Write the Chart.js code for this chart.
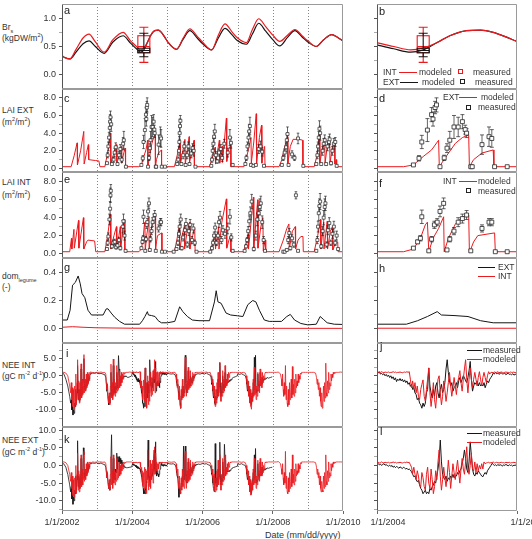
<!DOCTYPE html>
<html><head><meta charset="utf-8">
<script src="https://cdn.jsdelivr.net/npm/chart.js@4.4.1/dist/chart.umd.min.js"></script>
<style>
body{margin:0;background:#fff;width:532px;height:539px;overflow:hidden;position:relative;font-family:"Liberation Sans",Arial,sans-serif;color:#333}
canvas{position:absolute}
.t{position:absolute;font-size:8.5px;line-height:10px;white-space:nowrap;color:#333}
.t sub,.t sup{font-size:5.5px;line-height:0}
.lt{position:absolute;font-size:11px;line-height:11px;color:#222}
.lg{position:absolute;font-size:8.5px;line-height:10px;white-space:nowrap;color:#333}
.ln{position:absolute;height:0;border-top:1.2px solid}
.sq{position:absolute;width:3px;height:3px;border:1px solid;background:#fff}
.xl{position:absolute;font-size:9px;line-height:10px;white-space:nowrap;color:#333}
</style></head><body>

<div class="t" style="left:2px;top:22px">Br<sub>s</sub></div>
<div class="t" style="left:2px;top:32.5px">(kgDW/m<sup>2</sup>)</div>
<div class="t" style="left:2px;top:105px">LAI EXT</div>
<div class="t" style="left:2px;top:116.5px">(m<sup>2</sup>/m<sup>2</sup>)</div>
<div class="t" style="left:2px;top:177px">LAI INT</div>
<div class="t" style="left:2px;top:190px">(m<sup>2</sup>/m<sup>2</sup>)</div>
<div class="t" style="left:2px;top:271px">dom<sub>legume</sub></div>
<div class="t" style="left:2px;top:282px">(-)</div>
<div class="t" style="left:2px;top:360px">NEE INT</div>
<div class="t" style="left:2px;top:370.5px">(gC m<sup>-2</sup> d<sup>-1</sup>)</div>
<div class="t" style="left:2px;top:435px">NEE EXT</div>
<div class="t" style="left:2px;top:446.5px">(gC m<sup>-2</sup> d<sup>-1</sup>)</div>
<div class="xl" style="left:265px;top:530px">Date (mm/dd/yyyy)</div>

<script>
// ---------------- DATA ----------------
// Panel a/b: belowground biomass Br_s (kgDW/m2)
const brYears = [2002.00,2002.10,2002.22,2002.40,2002.60,2002.77,2002.95,2003.20,2003.45,2003.74,2003.95,2004.00,2004.12,2004.24,2004.33,2004.43,2004.52,2004.64,2004.74,2004.83,2004.93,2005.00,2005.26,2005.45,2005.64,2005.85,2006.00,2006.26,2006.45,2006.64,2006.85,2007.00,2007.25,2007.42,2007.60,2007.80,2008.00,2008.20,2008.42,2008.63,2008.85,2009.00,2009.24,2009.45,2009.68,2009.85,2010.00];
const brInt = [0.34,0.30,0.28,0.45,0.65,0.72,0.58,0.40,0.62,0.75,0.60,0.57,0.50,0.44,0.47,0.57,0.69,0.78,0.79,0.75,0.66,0.59,0.45,0.65,0.81,0.68,0.58,0.44,0.70,0.90,0.75,0.65,0.57,0.80,0.99,0.85,0.70,0.59,0.70,0.80,0.68,0.60,0.50,0.62,0.71,0.66,0.60];
const brExt = [0.33,0.30,0.28,0.40,0.55,0.60,0.50,0.38,0.58,0.69,0.56,0.53,0.46,0.40,0.44,0.57,0.69,0.78,0.79,0.75,0.66,0.59,0.45,0.63,0.78,0.65,0.55,0.44,0.65,0.82,0.70,0.60,0.54,0.72,0.91,0.77,0.62,0.51,0.66,0.78,0.66,0.58,0.50,0.62,0.71,0.66,0.60];
const brBoxDate = 2004.33;
const brBoxInt = [0.22,0.39,0.50,0.69,0.84];   // min, q1, median, q3, max
const brBoxExt = [0.32,0.39,0.43,0.47,0.735];

// Panel c/d: LAI EXT modeled [date, LAI]
const laiExtModeled = [[2002.00,0.2],[2002.26,0.2],[2002.35,1.5],[2002.43,2.9],[2002.44,0.4],[2002.53,2.0],[2002.62,4.2],[2002.63,0.5],[2002.70,1.8],[2002.75,2.7],[2002.76,1.0],[2002.95,0.9],[2003.05,0.85],[2003.08,0.2],
[2003.22,0.2],[2003.30,1.8],[2003.38,4.0],[2003.39,0.5],[2003.48,1.8],[2003.55,2.7],[2003.56,0.5],[2003.64,1.8],[2003.69,2.5],[2003.70,0.6],[2003.76,1.8],[2003.80,2.3],[2003.81,0.2],
[2004.19,0.2],[2004.26,0.4],[2004.33,1.35],[2004.39,2.1],[2004.44,3.2],[2004.445,0.2],[2004.50,1.5],[2004.56,2.85],[2004.61,3.5],[2004.655,3.8],[2004.66,0.2],[2004.69,1.0],[2004.75,1.75],[2004.83,2.1],[2004.835,0.2],
[2005.20,0.2],[2005.28,1.5],[2005.36,3.0],[2005.37,0.4],[2005.44,2.0],[2005.50,3.3],[2005.51,0.5],[2005.57,2.2],[2005.62,3.6],[2005.63,0.6],[2005.70,2.2],[2005.76,3.2],[2005.77,0.2],
[2006.20,0.2],[2006.30,1.5],[2006.36,2.4],[2006.37,0.5],[2006.48,3.2],[2006.49,0.6],[2006.56,2.5],[2006.57,0.7],[2006.68,5.7],[2006.69,0.8],[2006.75,2.2],[2006.80,2.6],[2006.81,0.2],
[2007.18,0.2],[2007.30,2.0],[2007.38,3.5],[2007.39,0.6],[2007.46,3.0],[2007.53,6.2],[2007.54,0.6],[2007.62,3.5],[2007.68,4.9],[2007.69,0.6],[2007.74,2.0],[2007.77,2.5],[2007.78,0.2],
[2008.18,0.2],[2008.26,1.0],[2008.33,2.3],[2008.42,3.6],[2008.43,0.6],[2008.50,2.5],[2008.58,3.3],[2008.75,3.3],[2008.85,3.2],[2008.86,0.2],
[2009.18,0.2],[2009.26,1.5],[2009.33,4.0],[2009.34,0.6],[2009.42,2.5],[2009.48,3.5],[2009.49,0.6],[2009.56,2.8],[2009.62,3.2],[2009.63,0.6],[2009.70,2.5],[2009.76,3.0],[2009.77,0.5],[2009.81,1.0],[2009.82,0.2],[2010.00,0.2]];
// LAI EXT measured [date, LAI, error]
const laiExtMeasured = [[2003.28,0.6,0.1],[2003.30,1.5,0.3],[2003.32,2.5,0.5],[2003.34,3.5,0.6],[2003.36,4.6,0.7],[2003.37,5.3,0.8],[2003.38,5.8,0.7],[2003.40,5.0,0.8],[2003.42,0.5,0.1],[2003.47,1.0,0.3],[2003.50,1.8,0.5],[2003.53,2.4,0.5],[2003.58,0.5,0.1],[2003.62,1.5,0.4],[2003.66,2.2,0.5],[2003.70,1.0,0.3],[2003.74,2.8,0.7],[2003.76,3.2,1.0],[2003.82,0.2,0.1],
[2004.26,0.4,0.1],[2004.30,1.15,0.3],[2004.32,3.0,0.75],[2004.36,4.35,1.3],[2004.39,6.1,0.8],[2004.40,5.6,0.8],[2004.415,6.9,0.7],[2004.425,7.2,0.8],[2004.45,0.2,0.1],[2004.48,1.2,0.3],[2004.50,2.3,0.5],[2004.52,3.2,1.0],[2004.55,4.7,1.3],[2004.58,4.7,1.1],[2004.61,5.3,0.8],[2004.63,4.4,0.5],[2004.64,4.0,0.5],[2004.67,0.2,0.1],[2004.68,0.2,0.1],[2004.75,2.7,1.1],[2004.80,3.6,1.1],[2004.82,3.4,1.0],[2004.84,0.2,0.1],[2004.93,0.2,0],
[2005.28,0.5,0.1],[2005.31,1.0,0.3],[2005.33,2.0,0.5],[2005.34,3.0,0.6],[2005.35,4.0,0.7],[2005.36,4.8,0.8],[2005.37,5.4,0.6],[2005.40,0.5,0.1],[2005.45,1.5,0.4],[2005.48,2.5,0.5],[2005.52,0.4,0.1],[2005.56,1.5,0.4],[2005.60,2.5,0.5],[2005.63,0.5,0.1],[2005.68,1.7,0.5],[2005.72,2.3,0.5],[2005.75,2.0,0.6],[2005.80,0.2,0.05],
[2006.25,0.3,0.1],[2006.27,1.0,0.3],[2006.29,2.0,0.5],[2006.31,2.8,0.6],[2006.33,3.6,0.7],[2006.35,4.2,0.8],[2006.38,1.5,0.4],[2006.42,0.8,0.2],[2006.47,1.8,0.4],[2006.52,2.2,0.5],[2006.56,1.2,0.4],[2006.62,2.8,0.5],[2006.72,1.8,0.5],[2006.78,3.5,0.9],[2006.81,2.9,0.6],[2006.86,0.4,0.1],
[2007.22,0.5,0.1],[2007.25,1.2,0.3],[2007.28,2.5,0.5],[2007.31,3.5,0.7],[2007.33,4.2,0.8],[2007.35,4.8,1.0],[2007.38,0.4,0.1],[2007.45,0.3,0.1],[2007.52,0.4,0.1],[2007.60,2.2,0.5],[2007.65,2.5,0.6],[2007.70,1.9,0.5],[2007.75,0.3,0.1],
[2008.26,0.4,0.1],[2008.30,1.2,0.3],[2008.34,1.8,0.4],[2008.38,2.4,0.5],[2008.40,3.2,0.7],[2008.42,3.9,0.8],[2008.45,0.4,0.1],[2008.55,1.6,0.4],[2008.62,1.2,0.3],[2008.72,3.4,0.6],[2008.87,0.3,0.1],
[2009.24,0.5,0.1],[2009.27,1.5,0.4],[2009.29,2.5,0.5],[2009.31,3.5,0.7],[2009.33,4.5,0.9],[2009.35,4.0,0.8],[2009.38,0.5,0.1],[2009.42,2.0,0.5],[2009.45,2.8,0.6],[2009.48,3.2,0.6],[2009.52,0.5,0.1],[2009.56,2.5,0.5],[2009.60,3.0,0.6],[2009.62,3.3,0.6],[2009.66,0.6,0.2],[2009.70,2.0,0.5],[2009.74,2.8,0.6],[2009.78,3.0,0.5],[2009.82,0.3,0.1]];

// Panel e/f: LAI INT
const laiIntModeled = [[2002.00,0.2],[2002.22,0.2],[2002.27,1.7],[2002.28,0.5],[2002.34,2.7],[2002.35,0.6],[2002.47,3.7],[2002.48,0.6],[2002.61,4.0],[2002.62,0.5],[2002.70,1.3],[2002.74,1.5],[2002.93,1.4],[2002.96,0.2],
[2003.22,0.2],[2003.30,2.0],[2003.38,4.4],[2003.39,0.5],[2003.48,2.0],[2003.55,3.0],[2003.56,0.5],[2003.62,2.0],[2003.66,3.0],[2003.67,0.5],[2003.74,2.8],[2003.78,3.8],[2003.79,0.2],
[2004.19,0.2],[2004.26,0.5],[2004.31,1.7],[2004.345,3.2],[2004.36,3.5],[2004.37,0.2],[2004.40,1.7],[2004.44,2.8],[2004.476,4.1],[2004.48,0.2],[2004.51,1.7],[2004.56,3.3],[2004.61,4.1],[2004.655,4.3],[2004.66,0.2],[2004.67,0.5],[2004.69,1.3],[2004.72,2.0],[2004.84,2.3],[2004.845,0.2],
[2005.20,0.2],[2005.27,1.5],[2005.34,3.2],[2005.35,0.4],[2005.42,2.0],[2005.48,3.0],[2005.49,0.5],[2005.56,2.4],[2005.63,3.5],[2005.64,0.5],[2005.72,2.0],[2005.78,2.8],[2005.79,0.2],
[2006.20,0.2],[2006.28,1.0],[2006.36,2.2],[2006.37,0.5],[2006.46,3.0],[2006.47,0.5],[2006.55,3.5],[2006.68,6.1],[2006.69,0.6],[2006.76,1.6],[2006.80,2.0],[2006.81,0.2],
[2007.18,0.2],[2007.26,1.5],[2007.30,2.2],[2007.31,0.5],[2007.45,6.3],[2007.46,0.6],[2007.57,6.0],[2007.58,0.6],[2007.66,3.0],[2007.72,4.0],[2007.73,0.3],[2007.78,1.5],[2007.80,0.2],
[2008.18,0.2],[2008.30,1.5],[2008.40,2.8],[2008.46,3.3],[2008.47,0.5],[2008.56,2.5],[2008.64,3.0],[2008.65,0.5],[2008.72,1.5],[2008.80,1.9],[2008.86,1.9],[2008.87,0.2],
[2009.18,0.2],[2009.28,2.0],[2009.36,3.8],[2009.37,0.5],[2009.45,3.5],[2009.46,0.5],[2009.55,3.6],[2009.56,0.5],[2009.64,2.5],[2009.70,3.0],[2009.71,0.4],[2009.80,1.3],[2009.85,1.3],[2009.86,0.2],[2010.00,0.2]];
const laiIntMeasured = [[2003.28,0.5,0.1],[2003.30,1.2,0.3],[2003.32,1.9,0.4],[2003.35,3.8,0.6],[2003.37,5.0,0.8],[2003.38,6.5,0.8],[2003.39,7.0,0.7],[2003.42,0.8,0.2],[2003.46,1.2,0.3],[2003.50,1.3,0.3],[2003.54,0.7,0.2],[2003.58,0.9,0.2],[2003.62,1.5,0.3],[2003.66,0.6,0.2],[2003.73,3.0,0.7],[2003.75,3.6,0.8],[2003.78,2.0,0.5],[2003.81,0.3,0.1],
[2004.26,0.6,0.1],[2004.29,1.3,0.2],[2004.31,1.7,0.3],[2004.32,4.1,0.75],[2004.37,0.3,0.1],[2004.39,1.6,0.3],[2004.41,3.2,0.4],[2004.43,3.5,0.4],[2004.45,4.7,0.6],[2004.476,5.6,0.6],[2004.50,0.4,0.1],[2004.52,1.6,0.3],[2004.55,2.5,0.4],[2004.58,3.5,0.5],[2004.61,3.9,0.5],[2004.64,4.3,0.5],[2004.67,0.3,0.1],[2004.75,2.8,0.4],[2004.80,3.5,0.4],[2004.82,3.5,0.4],[2004.845,0.2,0.05],[2004.93,0.2,0],
[2005.18,0.2,0.05],[2005.26,0.5,0.1],[2005.30,1.2,0.3],[2005.33,2.2,0.4],[2005.35,3.0,0.5],[2005.38,3.8,0.6],[2005.41,0.6,0.2],[2005.45,1.8,0.4],[2005.50,2.6,0.5],[2005.53,3.3,0.6],[2005.57,1.0,0.3],[2005.61,2.5,0.5],[2005.65,3.2,0.6],[2005.70,1.5,0.4],[2005.74,2.8,0.5],[2005.78,1.2,0.3],[2005.83,0.2,0.05],
[2006.22,0.2,0.05],[2006.27,0.6,0.2],[2006.30,1.2,0.3],[2006.33,2.0,0.4],[2006.36,2.9,0.5],[2006.40,1.2,0.3],[2006.44,2.0,0.4],[2006.47,3.5,0.6],[2006.50,4.0,0.7],[2006.54,1.5,0.4],[2006.58,2.6,0.5],[2006.64,2.2,0.5],[2006.72,2.8,0.6],[2006.78,4.1,0.8],[2006.82,1.8,0.4],[2006.86,0.3,0.1],
[2007.20,0.3,0.1],[2007.24,0.8,0.2],[2007.27,1.5,0.3],[2007.30,2.5,0.5],[2007.33,3.6,0.6],[2007.36,4.5,0.7],[2007.40,5.8,0.8],[2007.46,0.5,0.2],[2007.52,2.0,0.5],[2007.56,3.8,0.7],[2007.60,4.5,0.8],[2007.63,5.2,0.9],[2007.66,5.6,0.8],[2007.70,3.5,0.7],[2007.74,1.5,0.4],[2007.78,0.3,0.1],
[2008.30,0.2,0.05],[2008.34,0.2,0.05],[2008.40,0.4,0.1],[2008.44,1.5,0.4],[2008.47,2.3,0.5],[2008.50,0.6,0.2],[2008.55,1.7,0.4],[2008.60,1.0,0.3],[2008.66,6.5,0.4],[2008.72,0.3,0.1],
[2009.24,0.3,0.1],[2009.27,1.5,0.4],[2009.29,3.0,0.6],[2009.31,4.5,0.8],[2009.33,5.3,0.8],[2009.35,5.8,0.9],[2009.38,0.8,0.2],[2009.42,2.5,0.5],[2009.45,4.0,0.8],[2009.48,5.2,0.9],[2009.50,5.6,0.8],[2009.53,1.0,0.3],[2009.57,2.6,0.5],[2009.61,3.4,0.6],[2009.65,1.2,0.3],[2009.70,2.2,0.5],[2009.74,3.0,0.6],[2009.78,1.2,0.3],[2009.82,2.0,0.5],[2009.86,0.5,0.1]];

// Panel g/h: legume dominance
const domExt = [[2002.00,0.06],[2002.15,0.06],[2002.23,0.13],[2002.30,0.31],[2002.38,0.33],[2002.46,0.376],[2002.52,0.32],[2002.57,0.25],[2002.65,0.22],[2002.74,0.13],[2002.84,0.096],[2003.00,0.096],[2003.17,0.096],[2003.26,0.14],[2003.31,0.14],[2003.40,0.11],[2003.50,0.08],[2003.64,0.05],[2003.78,0.03],[2004.00,0.03],[2004.21,0.03],[2004.29,0.055],[2004.36,0.085],[2004.43,0.12],[2004.46,0.096],[2004.55,0.092],[2004.65,0.085],[2004.74,0.055],[2004.83,0.04],[2005.00,0.04],[2005.21,0.05],[2005.35,0.155],[2005.44,0.12],[2005.57,0.085],[2005.71,0.06],[2005.90,0.055],[2006.20,0.055],[2006.34,0.19],[2006.39,0.27],[2006.44,0.19],[2006.53,0.18],[2006.67,0.11],[2006.80,0.096],[2007.00,0.09],[2007.15,0.085],[2007.29,0.17],[2007.43,0.20],[2007.52,0.19],[2007.62,0.13],[2007.76,0.06],[2007.90,0.05],[2008.00,0.05],[2008.25,0.05],[2008.40,0.085],[2008.50,0.10],[2008.62,0.06],[2008.80,0.035],[2009.00,0.025],[2009.24,0.03],[2009.35,0.085],[2009.44,0.065],[2009.55,0.04],[2009.75,0.03],[2010.00,0.028]];
const domInt = [[2002.00,0.008],[2002.30,0.012],[2002.60,0.008],[2003.00,0.004],[2004.00,0.001],[2010.00,0.0]];

// Panels i-l: NEE (gC m-2 d-1); sampling day-of-year
const neeDoyStd = [0,20,40,60,80,90,96,102,108,114,120,126,132,138,144,150,156,162,168,174,180,186,192,198,204,210,216,222,228,234,240,246,252,258,264,270,276,282,288,294,300,306,320,340,360];
const neeDoy2004 = Array.from({length:122},(_,i)=>i*3);
const neeFirstYear = 2002;
const neeIntModeled = [
[1.0,1.0,0.8,0.0,-3.0, -5.0,-2.0,-7.0,-3.5,-9.0,-4.0,-9.5,-3.0,-8.0,0.5, -8.5,-2.0,4.7,-7.0,-1.5,-8.0,-2.0,-7.0,3.5,-6.5, -1.0,-5.5,1.0,6.2,-5.0,-1.0,-4.5,0.5,-3.5,1.0, -2.5,0.5,-1.5,1.0,0.5,1.2,0.8, 1.0,0.9,1.0],
[1.0,1.0,1.1,0.9,1.0, 0.5,-2.0,-4.0,-2.5,-6.0,-8.0,-5.0,-8.5,-3.0,3.4, -6.5,-2.0,-7.0,4.9,-5.5,-1.0,-6.0,-2.0,-5.0,3.0, -4.5,-1.0,-4.0,1.5,-3.5,0.0,-3.0,1.0,-2.0,0.5, -1.0,1.0,0.5,1.0,0.8,1.0,1.0, 1.0,1.1,1.0],
[1.0,1.1,0.9,1.0,1.2,1.0,0.9,1.1,1.0,1.0,1.1,0.9,1.0,1.0,1.2,1.0,1.1,0.9,1.0,1.0,1.1,1.0,0.9,1.0,1.1,1.0,1.2,1.0,
 1.2,-1.0,-3.5,-1.5,-4.0,-2.0,-5.0,-3.0,-6.0,-7.0,-4.0,-2.5,-1.2,-6.0,-7.5,-4.0,-1.0,2.3,-5.0,-9.0,-6.0,-2.0,-7.0,-9.5,-5.0,-1.0,0.0,-5.0,-8.5,-6.0,-1.5,-4.0,-7.5,-5.0,-2.0,1.0,-3.0,-6.0,-3.5,-0.5,-3.0,-5.5,-2.0,-0.5,1.5,-2.0,-4.5,-1.0,2.0,4.7,-1.0,-5.0,-1.0,2.3,-1.0,-3.5,-1.0,1.0,-1.0,-3.0,-0.5,1.2,-1.0,-3.0,-0.5,1.0,-0.5,-2.0,0.0,1.2,0.5,1.0,
 1.0,0.9,1.1,1.0,1.0,1.2,0.9,1.0,1.1,1.0,0.9,1.0,1.1,1.0,1.0,0.9,1.1,1.0,1.0,1.1,0.9,1.0],
[1.0,1.1,0.9,1.0,1.0, 0.5,-1.5,-3.5,-1.0,-5.0,-7.0,-3.0,-8.5,-9.5,-4.0, -7.0,-1.0,-6.5,-3.0,-6.0,2.0,5.5,-4.0,-6.0,-1.5, -5.0,2.5,-4.0,-1.0,-3.5,1.5,-3.0,-0.5,-2.5,1.0, -1.5,0.5,-0.5,1.0,0.8,1.0,1.0, 1.0,1.0,1.1],
[1.0,1.0,1.1,0.9,1.0, 0.0,-2.0,-1.0,-4.0,-6.0,-3.0,-7.5,-9.0,-4.0,-8.0, -2.0,-6.5,1.0,-6.0,-2.5,4.0,-5.0,-7.5,-3.0,-6.0, 1.5,-5.0,-1.0,-4.5,3.0,-3.5,-1.0,-3.0,0.5,-2.0, 1.0,-0.5,0.5,1.0,0.8,1.0,1.0, 1.0,1.0,1.0],
[1.0,1.0,0.9,1.0,0.8, 0.0,-2.0,-4.0,-1.5,-6.0,-3.0,-8.0,-4.0,-9.0,-9.8, -5.0,-7.5,-1.0,-6.0,2.5,-5.5,-2.0,-7.0,-3.0,-6.0, 1.0,-4.5,-1.5,-5.0,2.0,-3.0,-0.5,-3.5,1.0,-2.0, 0.0,-1.0,0.5,1.0,0.8,1.0,0.9, 1.0,1.0,1.0],
[1.0,1.0,1.0,1.1,0.5, -1.0,-3.0,0.5,-4.0,-6.0,-2.0,-5.5,3.0,-7.0,-3.0, -8.0,-9.0,-4.0,-8.5,-2.0,-7.0,-5.0,-1.0,-6.5,2.7, -5.5,-2.5,-6.0,-1.0,-5.0,0.5,-3.5,-1.5,-3.0,0.5, -2.0,0.0,-1.0,0.8,0.5,1.0,1.0, 1.0,1.0,1.0],
[1.0,1.0,1.0,1.0,0.8, -0.5,-2.5,-1.0,-4.0,-2.0,-6.0,-3.5,-7.5,-9.0,-5.0, -9.5,-8.0,-3.0,-7.5,-2.0,-6.5,3.7,-5.0,-6.0,-1.5, -5.0,1.0,-4.0,-2.0,-3.0,0.5,-1.5,0.5,-0.5,1.0, 0.5,1.0,0.8,1.0,1.0,1.0,1.0, 1.0,1.1,1.0]];
const neeIntMeasured = [
[1.0,0.5,-1.0,-3.0,-6.0, -8.0,-7.0,-10.0,-9.0,-11.5,-10.0,-11.0,-8.0,-9.0,-4.0, -8.0,-5.0,3.0,-7.0,-4.0,-7.5,-4.0,-6.0,2.0,-6.0, -3.0,-5.0,-1.0,5.0,-4.0,-2.5,-4.0,-1.5,-3.0,-1.0, -2.0,-0.5,-1.0,0.0,0.5,0.8,0.6, 0.8,0.7,0.9],
[0.8,0.6,0.7,0.5,0.3, -0.5,-2.5,-4.5,-5.0,-7.0,-8.5,-7.0,-8.0,-5.0,1.0, -6.0,-4.0,-6.0,3.0,-5.0,-3.0,-5.0,-3.0,-4.0,1.0, -3.5,-2.0,5.9,2.0,-2.0,-1.0,-2.0,-0.5,-1.0,-0.5, -0.5,0.0,-0.3,0.0,-0.2,0.0,-0.3, -0.5,-0.3,0.0],
[1.0,0.8,1.2,0.5,0.7,0.3,0.6,0.0,0.4,-0.2, 0.2,-0.5,0.0,-0.8,-0.3,-1.2,-0.6,-1.7,-1.0,-1.4, -0.8,-1.5,-1.0,-1.8,-1.2,-2.0,-1.5,-2.5,-2.0,-3.1,
 -2.5,-4.0,-3.5,-5.0,-5.5,-7.0,-6.5,-8.0,-8.5,-9.5, -8.0,-9.0,-8.0,-5.0,-4.0,2.3,-3.0,-5.0,-6.5,-4.0, -6.0,-3.0,-2.0,-5.0,-6.5,-4.0,-2.5,-5.0,-4.0,-2.0,
 2.0,4.7,1.0,-1.5,-3.0,-2.0,-4.5,-3.5,-3.0,-2.0, -3.5,-1.5,-0.5,-2.0,-1.0,0.0,-0.5,-1.5,-2.0,-0.5, 1.5,4.2,-1.0,-4.5,-3.0,-2.0,-2.5,-1.5,-3.0,-2.0,
 -3.0,-2.5,-3.0,-2.0,-3.5,-2.5,-1.5,-2.0,-1.0,-0.5, 0.0,0.8,0.5,1.0,0.6,0.8,0.4,0.7,0.9,0.5, 0.6,0.8,0.3,0.6,0.7,0.4,0.5,0.3,0.6,0.2,0.4,0.5],
[0.8,0.6,0.5,0.6,0.3, -0.5,-2.0,-3.0,-2.5,-4.5,-6.0,-5.0,-8.0,-9.5,-6.0, -6.5,-3.0,-6.0,-4.0,-5.0,0.0,6.0,-2.0,-5.0,-2.5, -4.0,1.5,-3.0,-2.0,-3.0,0.0,-2.0,-1.0,-2.0,0.0, -1.0,0.0,-0.5,0.3,0.2,0.5,0.5, 0.6,0.5,0.7],
[0.7,0.5,0.8,0.4,0.2, -0.5,-2.5,-2.0,-4.5,-6.5,-5.0,-8.0,-8.5,-6.0,-7.0, -4.0,-6.0,-1.0,-5.0,-3.0,3.8,-2.0,-6.0,-4.0,-5.0, 0.0,-4.0,-2.5,-3.5,1.0,-2.5,-2.0,-2.5,-1.5,-2.0, -1.5,-1.7,-1.2,-1.5,-1.0,-1.2,-0.8, -0.5,-0.3,0.0],
[0.6,0.4,0.6,0.3,0.0, -1.0,-2.5,-4.5,-3.0,-5.5,-4.0,-7.0,-5.0,-8.0,-8.5, -6.0,-6.5,-2.0,-4.0,5.4,-3.0,6.0,-5.0,-4.0,-4.5, 0.5,-3.0,-2.5,-3.5,1.0,-2.0,-1.5,-2.5,-0.5,-1.5, -1.0,-1.2,-0.8,-1.0,-0.6,-0.8,-0.5, -0.7,-0.5,-0.3]];
const neeExtModeled = [
[1.0,1.0,0.8,0.0,-2.5, -4.5,-2.0,-6.5,-3.0,-8.5,-4.0,-9.0,-3.5,-7.5,0.0, -8.0,-2.5,3.5,-7.0,-1.5,-7.5,-2.5,-6.5,3.0,-6.0, -1.0,-5.5,1.0,4.0,-4.5,-1.0,-4.0,0.5,-3.0,1.0, -2.0,0.5,-1.0,1.0,0.5,1.0,0.8, 1.0,0.9,1.0],
[1.0,1.0,1.0,0.9,1.0, 0.5,-1.5,-3.5,-2.0,-5.0,-6.5,-4.0,-7.0,-2.5,2.5, -5.5,-1.5,-6.5,3.0,-5.0,-1.0,-5.5,-2.0,-4.5,2.0, -4.0,-1.0,-3.5,1.0,-3.0,0.0,-2.5,0.5,-1.5,0.5, -1.0,1.0,0.5,1.0,0.8,1.0,1.0, 1.0,1.0,1.0],
[0.8,0.9,0.7,0.8,1.0,0.8,0.7,0.9,0.8,0.8,0.9,0.7,0.8,0.8,1.0,0.8,0.9,0.7,0.8,0.8,0.9,0.8,0.7,0.8,0.9,0.8,1.0,0.8,0.9,
 0.2,-0.5,-2.2,-0.5,-2.5,-4.0,-1.5,-3.0,-5.5,-6.0,-2.0,-3.5,-6.0,-7.0,-2.5,-0.5,-5.0,-6.5,-1.0,-4.0,-8.0,-6.0,-1.5,-4.0,1.0,4.4,-3.0,-7.0,-4.0,-0.5,-3.5,-6.0,-3.0,1.5,-2.0,-6.5,-3.0,0.5,-2.0,-4.0,-1.0,1.5,-2.0,-5.0,-1.0,2.0,-1.0,-2.5,1.0,5.3,-1.0,-2.5,0.0,3.5,-1.0,-1.5,1.0,-2.0,0.5,-1.5,0.0,-1.0,0.5,-1.0,1.0,0.5,
 0.7,0.8,0.9,0.7,0.8,0.8,1.0,0.7,0.8,0.9,0.8,0.7,0.8,0.9,0.8,0.8,0.7,0.9,0.8,0.8,0.9,0.7,0.8,0.8,0.9,0.8,0.7],
[1.0,1.0,0.9,1.0,1.0, 0.5,-1.5,-3.0,-1.0,-4.5,-6.5,-3.0,-7.5,-8.0,-3.5, -7.0,-1.0,-6.0,-2.5,-6.5,2.0,4.0,-4.5,-6.5,-1.5, -5.0,2.0,-4.5,-1.0,-4.0,1.5,-3.0,-0.5,-2.5,1.0, -1.5,0.5,-0.5,1.0,0.8,1.0,1.0, 1.0,1.0,1.0],
[1.0,1.0,1.0,0.9,0.8, 0.0,-2.0,-1.0,-3.5,-5.5,-2.5,-7.0,-7.5,-3.5,-7.0, -1.5,-6.0,1.5,-5.5,-2.0,3.0,-4.5,-7.0,-2.5,-5.5, 2.0,-4.5,-1.0,-4.0,3.0,-3.0,-0.5,-2.5,0.5,-1.5, 1.0,-0.5,0.5,1.0,0.8,1.0,1.0, 1.0,1.0,1.0],
[1.0,1.0,0.9,1.0,0.8, 0.0,-2.0,-3.5,-1.5,-5.5,-3.0,-7.5,-4.0,-8.4,-8.0, -4.5,-7.0,-1.0,-5.5,2.0,-5.0,-2.0,-6.5,-3.0,-5.5, 1.5,-4.0,-1.5,-4.5,2.0,-3.0,-0.5,-3.0,1.0,-2.0, 0.0,-1.0,0.5,1.0,0.8,1.0,0.9, 1.0,1.0,1.0],
[1.0,1.0,1.0,1.1,0.5, -1.0,-2.5,0.5,-3.5,-5.5,-2.0,-5.0,4.0,-6.5,-3.0, -7.5,-8.0,-3.5,-7.5,-2.0,-6.5,-4.5,-1.0,-6.0,3.0, -5.0,-2.5,-5.5,-1.0,-4.5,0.5,-3.0,-1.5,-2.5,0.5, -2.0,0.0,-1.0,0.8,0.5,1.0,1.0, 1.0,1.0,1.0],
[1.0,1.0,1.0,1.0,0.8, -0.5,-2.5,-1.0,-3.5,-2.0,-5.5,-3.0,-6.5,-7.5,-4.5, -7.0,-7.5,-3.0,-6.5,-2.0,-6.0,3.0,-4.5,-5.5,-1.5, -4.5,1.0,-3.5,-2.0,-3.0,0.5,-1.5,0.5,-0.5,1.0, 0.5,1.0,0.8,1.0,1.0,1.0,1.0, 1.0,1.0,1.0]];
const neeExtMeasured = [
[0.8,0.4,-0.5,-2.5,-5.5, -7.5,-6.0,-9.5,-8.0,-11.0,-9.0,-10.0,-7.0,-8.0,-3.0, -7.0,-4.0,7.0,-6.0,-3.0,-6.5,-3.5,-5.5,2.0,-5.0, -2.0,-4.0,5.0,3.0,-3.5,-2.0,-3.0,-1.0,-2.5,-0.5, -1.5,0.0,-0.5,0.3,0.5,0.7,0.5, 0.7,0.6,0.8],
[0.6,0.5,0.7,0.4,0.2, -0.5,-2.0,-3.5,-3.5,-5.0,-6.5,-6.0,-7.0,-4.0,2.0, 8.7,-2.0,-5.0,2.0,-4.0,-2.0,-4.0,-1.0,-2.0,3.5, -1.0,2.5,1.0,2.5,0.5,2.0,0.5,1.5,0.0,0.8, -0.3,0.2,-0.5,-0.3,-0.6,-0.5,-0.7, -0.6,-0.5,-0.4],
[0.3,0.5,0.2,0.4,0.0,0.3,0.5,0.1,0.2,0.0, -0.2,0.1,-0.3,0.0,-0.5,-0.2,-0.6,-0.3,-0.5,-0.8, -0.4,-0.6,-0.9,-0.5,-0.7,-1.0,-0.8,-1.2,-1.0,-1.3,
 -1.8,-2.5,-3.2,-3.0,-4.0,-4.6,-4.2,-5.5,-6.5,-7.0, -8.0,-7.5,-7.0,-8.0,-7.5,-8.0,-6.5,-7.0,-6.0,-5.5, -4.5,-5.0,-3.0,-1.0,1.5,7.2,1.0,-2.5,-3.5,-4.0,
 -3.0,-4.5,-3.5,-4.0,-3.0,-3.5,-2.5,-3.5,-3.0,-3.0, -2.0,-2.5,-1.5,-1.0,0.5,2.0,4.4,2.0,-1.0,-2.0, 1.0,6.7,2.9,-1.0,-2.5,-3.0,-2.0,-2.5,-1.5,-2.0,
 -2.5,-3.0,-3.2,-2.5,-2.0,-2.5,-1.5,-1.0,-0.5,0.0, 0.6,0.3,0.0,0.2,-0.1,0.3,0.0,0.2,0.1,-0.2, 0.2,0.0,0.3,0.1,-0.1,0.2,0.0,0.1,-0.2,0.1,0.0,0.2],
[0.7,0.5,0.4,0.5,0.2, -0.5,-2.0,-3.0,-3.5,-6.0,-9.0,-6.5,-8.0,-7.0,-5.0, -5.5,-3.0,-4.5,5.5,-4.0,1.0,5.5,-3.0,-5.0,-2.5, -4.0,1.0,-3.5,-2.0,-3.0,0.5,-2.0,-1.0,-2.0,0.0, -1.0,0.0,-0.5,0.2,0.0,0.3,0.2, 0.4,0.3,0.5],
[0.6,0.4,0.5,0.2,0.0, -1.0,-2.5,-3.0,-5.0,-6.5,-7.4,-6.0,6.2,-5.0,-6.0, -3.5,-5.0,-1.0,-4.0,-3.0,6.6,-3.0,-5.5,-3.5,-4.5, 1.0,-3.5,-2.0,6.0,1.5,-2.5,-2.0,-2.0,-1.5,-1.8, -1.5,-1.7,-1.3,-1.5,-1.2,-1.0,-0.8, -0.6,-0.4,-0.2],
[0.5,0.3,0.5,0.2,0.0, -1.0,-2.5,-4.0,-3.0,-5.0,-4.0,-6.5,-5.0,-7.5,-8.0, -6.0,-6.0,-2.0,-4.0,3.0,-3.5,4.8,-5.0,-4.0,-4.5, 0.5,-3.0,-2.5,-3.5,1.0,-2.0,-1.5,-2.5,-0.5,-1.5, -1.2,-1.3,-1.0,-1.2,-0.8,-1.0,-0.7, -0.8,-0.6,-0.5]];

// Tick values and labels
const yearLines = [2003,2004,2005,2006,2007,2008,2009];
const xTicksLeft = [2002,2004,2006,2008,2010];
const xLabelsLeft = ['1/1/2002','1/1/2004','1/1/2006','1/1/2008','1/1/2010'];
const xTicksRight = [2004,2005];
const xLabelsRight = ['1/1/2004','1/1/2005'];
const aTicks = [0,0.5,1.0], aLabels = ['0.0','0.5','1.0'], aMinor = [0.25,0.75];
const laiTicks = [0,2,4,6,8], laiLabels = ['0.0','2.0','4.0','6.0','8.0'], laiMinor = [1,3,5,7];
const gTicks = [0,0.2,0.4], gLabels = ['0.0','0.2','0.4'], gMinor = [0.1,0.3];
const iTicks = [-10,-5,0,5], iLabels = ['-10.0','-5.0','0.0','5.0'], iMinor = [-12.5,-7.5,-2.5,2.5,7.5];
const kTicks = [-10,-5,0,5,10], kLabels = ['-10.0','-5.0','0.0','5.0','10.0'], kMinor = [-12.5,-7.5,-2.5,2.5,7.5];

// ---------------- RENDER ----------------
const RED = '#ea1a1f', BLK = '#151515';
const FONT = '"Liberation Sans", Arial, sans-serif';

const decor = {
  id: 'decor',
  beforeDatasetsDraw(chart) {
    const o = chart.canvas._decor; if (!o || !o.dotted) return;
    const {ctx, chartArea: a} = chart, x = chart.scales.x;
    ctx.save(); ctx.strokeStyle = '#666'; ctx.lineWidth = 0.8; ctx.setLineDash([1, 2]);
    o.dotted.forEach(v => { const px = Math.round(x.getPixelForValue(v)) + 0.5;
      ctx.beginPath(); ctx.moveTo(px, a.top); ctx.lineTo(px, a.bottom); ctx.stroke(); });
    ctx.restore();
  },
  beforeDatasetDraw(chart, args) {
    const ds = chart.data.datasets[args.index]; if (!ds.errors) return;
    const o = chart.canvas._decor, cap = o.cap || 1.5;
    const {ctx, chartArea: a} = chart, x = chart.scales.x, y = chart.scales.y;
    ctx.save(); ctx.beginPath(); ctx.rect(a.left, a.top, a.right - a.left, a.bottom - a.top); ctx.clip();
    ctx.strokeStyle = '#222'; ctx.lineWidth = 0.7;
    ds.data.forEach((p, i) => { const e = ds.errors[i]; if (!e) return;
      const px = x.getPixelForValue(p.x), y1 = y.getPixelForValue(p.y + e), y2 = y.getPixelForValue(p.y - e);
      ctx.beginPath(); ctx.moveTo(px, y1); ctx.lineTo(px, y2);
      ctx.moveTo(px - cap, y1); ctx.lineTo(px + cap, y1); ctx.moveTo(px - cap, y2); ctx.lineTo(px + cap, y2); ctx.stroke(); });
    ctx.restore();
  },
  afterDatasetsDraw(chart) {
    const o = chart.canvas._decor; if (!o || !o.boxes) return;
    const {ctx} = chart, x = chart.scales.x, y = chart.scales.y;
    o.boxes.forEach(b => {
      const px = x.getPixelForValue(b.x), v = b.v.map(t => y.getPixelForValue(t));
      ctx.save(); ctx.strokeStyle = b.color; ctx.lineWidth = 1.1;
      ctx.strokeRect(px - 6, v[3], 12, v[1] - v[3]);
      ctx.beginPath();
      ctx.moveTo(px - 6, v[2]); ctx.lineTo(px + 6, v[2]);
      ctx.moveTo(px, v[3]); ctx.lineTo(px, v[4]); ctx.moveTo(px - 4.5, v[4]); ctx.lineTo(px + 4.5, v[4]);
      ctx.moveTo(px, v[1]); ctx.lineTo(px, v[0]); ctx.moveTo(px - 4.5, v[0]); ctx.lineTo(px + 4.5, v[0]);
      ctx.stroke(); ctx.restore();
    });
  },
  afterDraw(chart) {
    const {ctx, chartArea: a} = chart;
    const l = Math.round(a.left) + 0.5, r = Math.round(a.right) - 0.5, t = Math.round(a.top) + 0.5, b = Math.round(a.bottom) - 0.5;
    ctx.save(); ctx.lineWidth = 1; ctx.strokeStyle = '#9a9a9a';
    ctx.beginPath(); ctx.moveTo(l, t); ctx.lineTo(r, t); ctx.lineTo(r, b); ctx.lineTo(l, b); ctx.stroke();
    ctx.strokeStyle = '#555'; ctx.beginPath(); ctx.moveTo(l, t); ctx.lineTo(l, b); ctx.stroke();
    ctx.restore();
  }
};

const LEFT = {cx: 0, cw: 365, L: 62, R: 343, labels: true, xmin: 2002, xmax: 2010};
const RIGHT = {cx: 360, cw: 172, L: 377, R: 517, labels: false, xmin: 2004, xmax: 2005};

function panel(col, T, B, cfg) {
  const bottom = !!cfg.xTicks;
  const cy = T - 6;
  const ch = bottom ? (539 - cy) : (B - T + 12);
  const xH = bottom ? (539 - B) : 0;
  const cv = document.createElement('canvas');
  cv.width = col.cw; cv.height = ch;
  Object.assign(cv.style, {left: col.cx + 'px', top: cy + 'px', width: col.cw + 'px', height: ch + 'px'});
  document.body.appendChild(cv);
  cv._decor = {dotted: col === LEFT ? yearLines : null, boxes: cfg.boxes || null, cap: cfg.cap};
  const all = cfg.major.concat(cfg.minor).sort((p, q) => p - q);
  new Chart(cv, {
    type: 'line',
    data: {datasets: cfg.datasets},
    options: {
      responsive: false, animation: false, devicePixelRatio: 1, parsing: false, events: [],
      layout: {padding: {left: 0, right: col.cx + col.cw - col.R, top: T - cy, bottom: bottom ? 0 : (cy + ch - B)}},
      plugins: {legend: {display: false}, tooltip: {enabled: false}},
      elements: {point: {radius: 0}, line: {borderWidth: 1, tension: 0}},
      scales: {
        x: {type: 'linear', min: col.xmin, max: col.xmax, display: true,
          afterBuildTicks: s => { s.ticks = (cfg.xTicks || []).map(v => ({value: v})); },
          ticks: {display: bottom, autoSkip: false, maxRotation: 0, padding: 3, labelOffset: cfg.labelOffset || 0,
            font: {family: FONT, size: 9}, color: '#333',
            callback: v => { const k = (cfg.xTicks || []).indexOf(v); return k >= 0 ? cfg.xLabels[k] : ''; }},
          grid: {display: bottom, drawOnChartArea: false, tickLength: 3, color: '#666'},
          border: {display: false},
          afterFit: s => { s.height = xH; s.paddingLeft = 0; s.paddingRight = 0; }},
        y: {type: 'linear', min: cfg.ymin, max: cfg.ymax,
          afterBuildTicks: s => { s.ticks = all.map(v => ({value: v})); },
          ticks: {autoSkip: false, padding: 3, font: {family: FONT, size: 9}, color: '#333',
            callback: v => { if (!col.labels) return ''; const k = cfg.major.indexOf(v); return k >= 0 ? cfg.labels[k] : ''; }},
          grid: {drawOnChartArea: false, tickLength: 3,
            color: c => (c.tick && cfg.major.indexOf(c.tick.value) >= 0) ? '#555' : '#aaa'},
          border: {display: false},
          afterFit: s => { s.width = col.L - col.cx; s.paddingTop = 0; s.paddingBottom = 0; }}
      }
    },
    plugins: [decor]
  });
}

const pts = (xs, ys) => xs.map((x, i) => ({x, y: ys[i]}));
const pairs = arr => arr.map(p => ({x: p[0], y: p[1]}));
function neeSeries(perYear) {
  const out = [];
  perYear.forEach((vals, k) => {
    const yr = neeFirstYear + k, doys = yr === 2004 ? neeDoy2004 : neeDoyStd;
    vals.forEach((v, i) => { if (i < doys.length) out.push({x: yr + doys[i] / 365, y: v}); });
  });
  return out;
}
const brSets = () => [
  {data: pts(brYears, brInt), borderColor: RED, borderWidth: 1.2, cubicInterpolationMode: 'monotone'},
  {data: pts(brYears, brExt), borderColor: BLK, borderWidth: 1.2, cubicInterpolationMode: 'monotone'}];
const laiSets = (meas, model, r, bw) => [
  {data: meas.map(p => ({x: p[0], y: p[1]})), errors: meas.map(p => p[2]), showLine: false, pointStyle: 'rect',
   pointRadius: r, pointBackgroundColor: '#fff', pointBorderColor: '#222', pointBorderWidth: bw},
  {data: pairs(model), borderColor: RED, borderWidth: 1}];
const domSets = () => [
  {data: pairs(domExt), borderColor: BLK, borderWidth: 1},
  {data: pairs(domInt), borderColor: RED, borderWidth: 1}];
const neeSets = (mod, meas, w) => [
  {data: neeSeries(mod), borderColor: RED, borderWidth: w},
  {data: neeSeries(meas), borderColor: BLK, borderWidth: w}];
const boxes = () => [{x: brBoxDate, v: brBoxInt, color: RED}, {x: brBoxDate, v: brBoxExt, color: BLK}];

// Left column
panel(LEFT, 4, 89, {ymin: -0.25, ymax: 1.25, major: aTicks, labels: aLabels, minor: aMinor, datasets: brSets(), boxes: boxes()});
panel(LEFT, 89, 172, {ymin: -0.4, ymax: 9.0, major: laiTicks, labels: laiLabels, minor: laiMinor, datasets: laiSets(laiExtMeasured, laiExtModeled, 2.1, 0.7), cap: 1.3});
panel(LEFT, 172, 258, {ymin: -0.5, ymax: 9.1, major: laiTicks, labels: laiLabels, minor: laiMinor, datasets: laiSets(laiIntMeasured, laiIntModeled, 2.1, 0.7), cap: 1.3});
panel(LEFT, 258, 343, {ymin: -0.105, ymax: 0.505, major: gTicks, labels: gLabels, minor: gMinor, datasets: domSets()});
panel(LEFT, 343, 427, {ymin: -15, ymax: 9.6, major: iTicks, labels: iLabels, minor: iMinor, datasets: neeSets(neeIntModeled, neeIntMeasured, 0.8)});
panel(LEFT, 427, 511, {ymin: -12.9, ymax: 10.9, major: kTicks, labels: kLabels, minor: kMinor, datasets: neeSets(neeExtModeled, neeExtMeasured, 0.8), xTicks: xTicksLeft, xLabels: xLabelsLeft});
// Right column (2004)
panel(RIGHT, 4, 89, {ymin: -0.25, ymax: 1.25, major: aTicks, labels: aLabels, minor: aMinor, datasets: brSets(), boxes: boxes()});
panel(RIGHT, 89, 172, {ymin: -0.4, ymax: 9.0, major: laiTicks, labels: laiLabels, minor: laiMinor, datasets: laiSets(laiExtMeasured, laiExtModeled, 2.8, 0.8), cap: 2.0});
panel(RIGHT, 172, 258, {ymin: -0.5, ymax: 9.1, major: laiTicks, labels: laiLabels, minor: laiMinor, datasets: laiSets(laiIntMeasured, laiIntModeled, 2.8, 0.8), cap: 2.0});
panel(RIGHT, 258, 343, {ymin: -0.105, ymax: 0.505, major: gTicks, labels: gLabels, minor: gMinor, datasets: domSets()});
panel(RIGHT, 343, 427, {ymin: -15, ymax: 9.6, major: iTicks, labels: iLabels, minor: iMinor, datasets: neeSets(neeIntModeled, neeIntMeasured, 1)});
panel(RIGHT, 427, 511, {ymin: -12.9, ymax: 10.9, major: kTicks, labels: kLabels, minor: kMinor, datasets: neeSets(neeExtModeled, neeExtMeasured, 1), xTicks: xTicksRight, xLabels: xLabelsRight, labelOffset: 11});
</script>

<!-- panel letters -->
<div class="lt" style="left:64px;top:5px">a</div>
<div class="lt" style="left:64px;top:93px">c</div>
<div class="lt" style="left:64px;top:174px">e</div>
<div class="lt" style="left:64px;top:262px">g</div>
<div class="lt" style="left:66px;top:348px">i</div>
<div class="lt" style="left:64px;top:434px">k</div>
<div class="lt" style="left:379px;top:5.5px">b</div>
<div class="lt" style="left:379px;top:92.5px">d</div>
<div class="lt" style="left:379px;top:177.5px">f</div>
<div class="lt" style="left:379px;top:262.5px">h</div>
<div class="lt" style="left:380px;top:341px">j</div>
<div class="lt" style="left:380px;top:425.5px">l</div>

<!-- legends -->
<div class="lg" style="left:383px;top:66.7px">INT</div>
<div class="ln" style="left:399px;width:18px;top:71.7px;border-color:#ea1a1f"></div>
<div class="lg" style="left:419px;top:66.7px">modeled</div>
<div class="sq" style="left:458px;top:69px;border-color:#ea1a1f"></div>
<div class="lg" style="left:473px;top:66.7px">measured</div>
<div class="lg" style="left:383px;top:76.7px">EXT</div>
<div class="ln" style="left:400px;width:18px;top:81.7px;border-color:#151515"></div>
<div class="lg" style="left:422px;top:76.7px">modeled</div>
<div class="sq" style="left:460px;top:79px;border-color:#222"></div>
<div class="lg" style="left:475px;top:76.7px">measured</div>

<div class="lg" style="left:443px;top:92px">EXT</div>
<div class="ln" style="left:459px;width:18px;top:97px;border-color:#ea1a1f"></div>
<div class="lg" style="left:481px;top:92px">modeled</div>
<div class="sq" style="left:466px;top:104.5px;border-color:#222"></div>
<div class="lg" style="left:478px;top:102px">measured</div>

<div class="lg" style="left:443px;top:175.7px">INT</div>
<div class="ln" style="left:459px;width:18px;top:180.7px;border-color:#ea1a1f"></div>
<div class="lg" style="left:478px;top:175.7px">modeled</div>
<div class="sq" style="left:466px;top:188px;border-color:#222"></div>
<div class="lg" style="left:478px;top:185.7px">measured</div>

<div class="ln" style="left:478px;width:17px;top:266.7px;border-color:#151515"></div>
<div class="lg" style="left:498px;top:261.7px">EXT</div>
<div class="ln" style="left:478px;width:17px;top:276px;border-color:#ea1a1f"></div>
<div class="lg" style="left:498px;top:271px">INT</div>

<div class="ln" style="left:467px;width:15px;top:350px;border-color:#151515"></div>
<div class="lg" style="left:483px;top:345px">measured</div>
<div class="ln" style="left:467px;width:15px;top:359.3px;border-color:#ea1a1f"></div>
<div class="lg" style="left:483px;top:354.3px">modeled</div>

<div class="ln" style="left:467px;width:15px;top:432.7px;border-color:#151515"></div>
<div class="lg" style="left:483px;top:427.7px">measured</div>
<div class="ln" style="left:467px;width:15px;top:441.7px;border-color:#ea1a1f"></div>
<div class="lg" style="left:483px;top:436.7px">modeled</div>
</body></html>
